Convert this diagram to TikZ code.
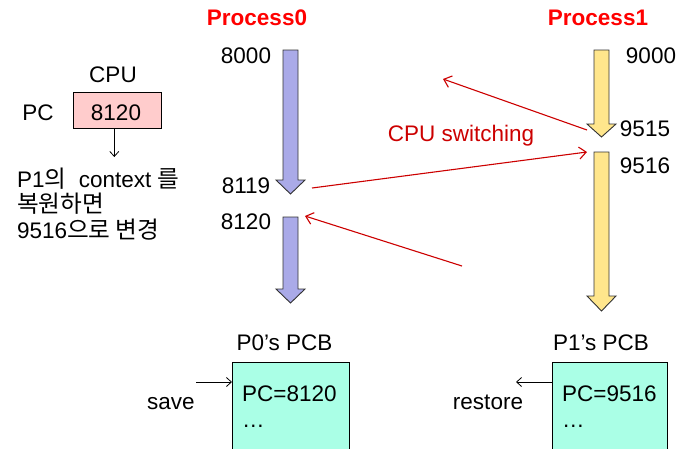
\documentclass[tikz,border=0pt]{standalone}
\usepackage{fontspec}
\setmainfont{Liberation Sans}
\newfontfamily\kr[Scale=1.05]{Noto Sans CJK KR}
\usetikzlibrary{arrows.meta}
\definecolor{titlered}{RGB}{255,0,0}
\definecolor{swred}{RGB}{204,0,0}
\definecolor{lav}{RGB}{170,170,232}
\definecolor{yel}{RGB}{255,230,140}
\definecolor{pinkbox}{RGB}{255,204,204}
\definecolor{pcbfill}{RGB}{170,255,230}
\tikzset{
  txt/.style={inner sep=0pt, anchor=base, font=\fontsize{22.5}{27}\selectfont},
  title/.style={txt, text=titlered, font=\fontsize{22.5}{27}\selectfont\bfseries},
  flow0/.style={draw=black!80, line width=0.9pt, fill=lav},
  flow1/.style={draw=black!80, line width=0.9pt, fill=yel},
  switch/.style={draw=swred, line width=1.1pt, -{Straight Barb[length=7pt,width=12pt]}},
  blk/.style={draw=black, line width=0.8pt, -{Straight Barb[length=5pt,width=9pt]}},
  pcb/.style={draw=black, line width=0.9pt, fill=pcbfill, inner sep=0pt, anchor=north west},
}
\begin{document}
\begin{tikzpicture}[x=1pt,y=-1pt]
\useasboundingbox (0,0) rectangle (682,448);
% titles
\node[title] (t0) at (257,25) {Process0};
\node[title] (t1) at (598,25) {Process1};
% process 0 flow arrows
\draw[flow0] (283,50) -- (298,50) -- (298,180) -- (305,180) -- (290.5,194) -- (276,180) -- (283,180) -- cycle;
\draw[flow0] (283,217) -- (298,217) -- (298,289) -- (305,289) -- (290.5,303) -- (276,289) -- (283,289) -- cycle;
% process 1 flow arrows
\draw[flow1] (594,50) -- (609,50) -- (609,124) -- (616,124) -- (601.5,137) -- (587,124) -- (594,124) -- cycle;
\draw[flow1] (594,152) -- (609,152) -- (609,296) -- (616,296) -- (601.5,311) -- (587,296) -- (594,296) -- cycle;
% address labels
\node[txt] (a8000) at (246,63) {8000};
\node[txt] (a8119) at (246,193) {8119};
\node[txt] (a8120) at (246,229) {8120};
\node[txt] (a9000) at (651,63) {9000};
\node[txt] (a9515) at (645,136) {9515};
\node[txt] (a9516) at (645,173) {9516};
% CPU
\node[txt] (cpu) at (113,82) {CPU};
\node[txt] (pc) at (38,120) {PC};
\node[draw=black, line width=0.9pt, fill=pinkbox, minimum width=88pt, minimum height=36pt, inner sep=0pt] (pcbox) at (117,110) {};
\node[txt] (pcval) at (116,120) {8120};
\coordinate (pcdown) at (114.3,157);
\draw[blk] (pcbox.south -| pcdown) -- (pcdown);
% Korean note
\node[txt, anchor=base west] (k1) at (17,187) {P1{\kr 의}\ \ context {\kr 를}};
\node[txt, anchor=base west] (k2) at (17,212.5) {{\kr 복원하면}};
\node[txt, anchor=base west] (k3) at (17,238) {9516{\kr 으로 변경}};
% CPU switching arrows
\coordinate (s1a) at (587,130);
\coordinate (s1b) at (443,79);
\coordinate (s2a) at (312,188);
\coordinate (s2b) at (587,152);
\coordinate (s3a) at (462,266);
\coordinate (s3b) at (305,216);
\draw[switch] (s1a) -- (s1b);
\draw[switch] (s2a) -- (s2b);
\draw[switch] (s3a) -- (s3b);
\node[txt, text=swred] (sw) at (461,141) {CPU switching};
% PCBs
\node[pcb, minimum width=117pt, minimum height=100pt] (pcb0) at (232,362) {};
\node[pcb, minimum width=115pt, minimum height=100pt] (pcb1) at (552,362) {};
\node[txt] (l0) at (284.5,350) {P0’s PCB};
\node[txt] (l1) at (601,350) {P1’s PCB};
\node[txt, anchor=base west] (v0) at (242,401) {PC=8120};
\node[txt, anchor=base west] (d0) at (242,427) {…};
\node[txt, anchor=base west] (v1) at (562,401) {PC=9516};
\node[txt, anchor=base west] (d1) at (562,427) {…};
% save / restore
\node[txt] (save) at (171,409) {save};
\node[txt] (restore) at (488,409) {restore};
\coordinate (saveS) at (196,382);
\coordinate (restE) at (516,382);
\draw[blk] (saveS) -- (pcb0.west |- saveS);
\draw[blk] (pcb1.west |- restE) -- (restE);
\end{tikzpicture}
\end{document}
